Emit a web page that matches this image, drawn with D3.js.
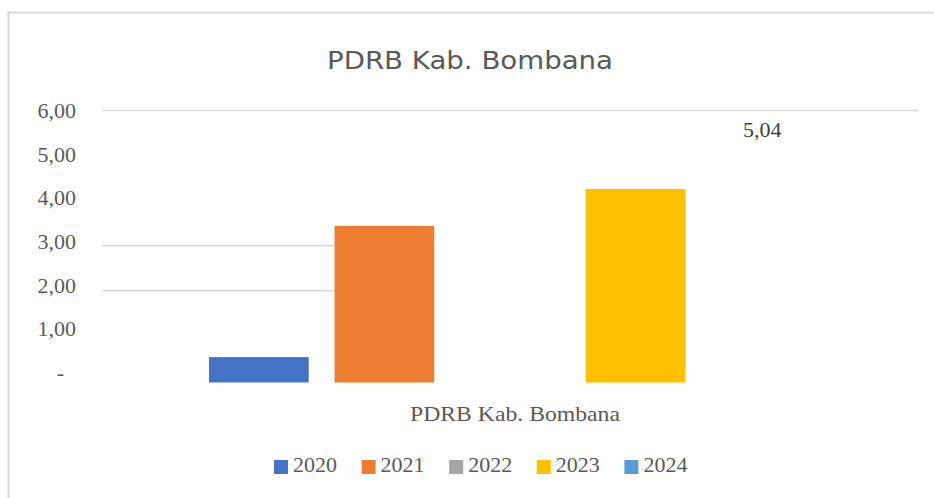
<!DOCTYPE html>
<html><head><meta charset="utf-8">
<script src="https://cdn.jsdelivr.net/npm/d3@7"></script>
<style>html,body{margin:0;padding:0;background:#fff;}svg{display:block;}</style>
</head><body>
<svg id="c" width="934" height="498"></svg>
<script>
const title = "PDRB Kab. Bombana";
const categories = ["PDRB Kab. Bombana"];
const seriesNames = ["2020", "2021", "2022", "2023", "2024"];
const seriesValues = [0.53, 3.44, 0, 4.26, 5.04];
const seriesColors = ["#4472C4", "#ED7D31", "#A5A5A5", "#FFC000", "#5B9BD5"];
const yTicks = [0, 1, 2, 3, 4, 5, 6];
const labeledSeries = ["2024"];
const hiddenBars = ["2022", "2024"];

const svg = d3.select("#c");
const W = 934, H = 498;
const plot = {left: 102, right: 918, top: 110.5, bottom: 381};
const serif = "Liberation Serif, Times New Roman, serif";

// frame
svg.append("path").attr("d", `M8.5,${H} L8.5,12.5 L${W},12.5`)
  .attr("fill", "none").attr("stroke", "#d9d9d9").attr("stroke-width", 2);

// title
svg.append("text").attr("x", 470).attr("y", 69).attr("text-anchor", "middle")
  .attr("font-family", "DejaVu Sans, Verdana, sans-serif").attr("font-size", 25)
  .attr("fill", "#595959").attr("textLength", 286).attr("lengthAdjust", "spacingAndGlyphs")
  .text(title);

const y = d3.scaleLinear().domain([0, 6]).range([plot.bottom, plot.top]);
const yLab = d3.scaleLinear().domain([0, 6]).range([372.5, 110.5]);
const x1 = d3.scaleBand().domain(seriesNames).range([209, 811]).paddingInner(0.206);

// gridlines (only those visible in reference)
const orangeLeft = x1("2021");
svg.append("line").attr("x1", plot.left).attr("x2", plot.right).attr("y1", y(6)).attr("y2", y(6))
  .attr("stroke", "#d9d9d9").attr("stroke-width", 1.5);
[3, 2].forEach(v => {
  svg.append("line").attr("x1", plot.left).attr("x2", orangeLeft).attr("y1", y(v)).attr("y2", y(v))
    .attr("stroke", "#d9d9d9").attr("stroke-width", 1.5);
});

// y labels
const fmt = v => v === 0 ? "-" : d3.format(".2f")(v).replace(".", ",");
svg.append("g").selectAll("text").data(yTicks).join("text")
  .attr("x", d => d === 0 ? 64 : 76).attr("y", d => yLab(d)).attr("dy", "0.34em")
  .attr("text-anchor", "end")
  .attr("font-family", serif).attr("font-size", 22)
  .attr("fill", "#595959").text(fmt);

// bars
const data = seriesNames.map((s, i) => ({s, v: seriesValues[i], c: seriesColors[i]}));
svg.append("g").selectAll("rect").data(data).join("rect")
  .attr("x", d => x1(d.s)).attr("width", x1.bandwidth())
  .attr("y", d => y(d.v)).attr("height", d => Math.max(0, y(0) - y(d.v) + 1.5))
  .attr("fill", d => d.c).attr("fill-opacity", d => hiddenBars.includes(d.s) ? 0 : 1);

// data labels
svg.append("g").selectAll("text").data(data.filter(d => labeledSeries.includes(d.s))).join("text")
  .attr("x", d => x1(d.s) + x1.bandwidth() / 2 + 1).attr("y", d => y(d.v) - 16.5)
  .attr("text-anchor", "middle")
  .attr("font-family", serif).attr("font-size", 22)
  .attr("fill", "#404040").text(d => fmt(d.v));

// category label
svg.append("text").attr("x", 515).attr("y", 421).attr("text-anchor", "middle")
  .attr("font-family", serif).attr("font-size", 22)
  .attr("fill", "#595959").attr("textLength", 210).attr("lengthAdjust", "spacingAndGlyphs")
  .text(categories[0]);

// legend
const lg = svg.append("g").selectAll("g").data(data).join("g")
  .attr("transform", (d, i) => `translate(${274 + i * 87.6},460)`);
lg.append("rect").attr("width", 14).attr("height", 14).attr("fill", d => d.c);
lg.append("text").attr("x", 19).attr("y", 12)
  .attr("font-family", serif).attr("font-size", 22)
  .attr("fill", "#595959").text(d => d.s);
</script>
</body></html>
